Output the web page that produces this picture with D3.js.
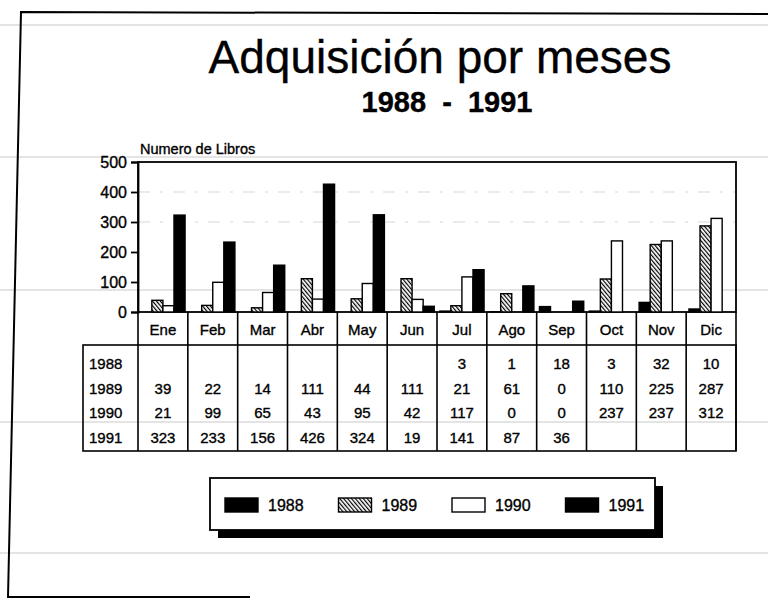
<!DOCTYPE html>
<html>
<head>
<meta charset="utf-8">
<script src="https://cdn.jsdelivr.net/npm/d3@7"></script>
<style>
  body { margin: 0; background: #fff; }
  svg { display: block; font-family: "Liberation Sans", Arial, sans-serif; }
  svg text { stroke: #000; stroke-width: 0.35px; }
</style>
</head>
<body>
<svg id="chart" width="768" height="599"></svg>
<script>
// data
var months = ['Ene', 'Feb', 'Mar', 'Abr', 'May', 'Jun', 'Jul', 'Ago', 'Sep', 'Oct', 'Nov', 'Dic'];
var years = ['1988', '1989', '1990', '1991'];
var v1988 = [null, null, null, null, null, null, 3, 1, 18, 3, 32, 10];
var v1989 = [39, 22, 14, 111, 44, 111, 21, 61, 0, 110, 225, 287];
var v1990 = [21, 99, 65, 43, 95, 42, 117, 0, 0, 237, 237, 312];
var v1991 = [323, 233, 156, 426, 324, 19, 141, 87, 36, null, null, null];
var yTicks = [0, 100, 200, 300, 400, 500];

var seriesValues = { '1988': v1988, '1989': v1989, '1990': v1990, '1991': v1991 };
var fills = { '1988': '#000', '1989': 'url(#hatch)', '1990': '#fff', '1991': '#000' };

var svg = d3.select('#chart');

// hatch pattern for 1989 (dense backslash lines)
var defs = svg.append('defs');
defs.append('pattern')
  .attr('id', 'hatch')
  .attr('patternUnits', 'userSpaceOnUse')
  .attr('width', 3)
  .attr('height', 3)
  .attr('patternTransform', 'rotate(-40)')
  .call(function (p) {
    p.append('rect').attr('width', 3).attr('height', 3).attr('fill', '#fff');
    p.append('line').attr('x1', 0).attr('y1', 0).attr('x2', 0).attr('y2', 3)
      .attr('stroke', '#000').attr('stroke-width', 2.4);
  });

// faint ruled lines of the scanned page
svg.append('g').selectAll('line').data([25, 157, 290, 422, 553]).enter()
  .append('line')
  .attr('x1', 0).attr('x2', 768)
  .attr('y1', function (d) { return d; }).attr('y2', function (d) { return d; })
  .attr('stroke', '#c9c9c9').attr('stroke-width', 1);

// page frame
svg.append('path')
  .attr('d', 'M768,14 L21,12 L8,597 L250,597')
  .attr('fill', 'none').attr('stroke', '#000').attr('stroke-width', 2);

// titles
svg.append('text')
  .attr('x', 440).attr('y', 73)
  .attr('text-anchor', 'middle')
  .attr('font-size', 46)
  .text('Adquisición por meses');
svg.append('text')
  .attr('x', 447).attr('y', 112)
  .attr('text-anchor', 'middle')
  .attr('font-size', 29)
  .attr('font-weight', 'bold')
  .style('white-space', 'pre')
  .text('1988  -  1991');

// scales
var plotLeft = 138, plotRight = 736, plotTop = 162, plotBase = 312;
var x = d3.scaleBand().domain(months).range([plotLeft, plotRight]);
var x1 = d3.scaleBand().domain(years).range([0, x.bandwidth()]).paddingOuter(0.25);
var y = d3.scaleLinear().domain([0, 500]).range([plotBase, plotTop]);

// faint dash-dot grid
svg.append('g').selectAll('line').data([300, 400]).enter()
  .append('line')
  .attr('x1', plotLeft).attr('x2', plotRight)
  .attr('y1', function (d) { return y(d); }).attr('y2', function (d) { return y(d); })
  .attr('stroke', '#777').attr('stroke-opacity', 0.3)
  .attr('stroke-dasharray', '12,10,3,10');

// plot frame
svg.append('rect')
  .attr('x', plotLeft).attr('y', plotTop)
  .attr('width', plotRight - plotLeft).attr('height', plotBase - plotTop)
  .attr('fill', 'none').attr('stroke', '#000').attr('stroke-width', 1.8);

// y axis
var yAxis = svg.append('g')
  .attr('transform', 'translate(' + plotLeft + ',0)')
  .call(d3.axisLeft(y).tickValues(yTicks).tickSize(7).tickPadding(4));
yAxis.select('.domain').attr('stroke-width', 1.8);
yAxis.selectAll('.tick line').attr('stroke-width', 1.8);
yAxis.selectAll('text')
  .attr('font-family', '"Liberation Sans", Arial, sans-serif')
  .attr('font-size', 16)
  .attr('fill', '#000');

svg.append('text')
  .attr('x', plotLeft + 2).attr('y', 154)
  .attr('font-size', 14.5)
  .text('Numero de Libros');

// bars
var groups = svg.append('g').selectAll('g').data(months).enter()
  .append('g')
  .attr('transform', function (d) { return 'translate(' + x(d) + ',0)'; });

groups.selectAll('rect')
  .data(function (m, i) {
    return years.map(function (yr) { return { year: yr, value: seriesValues[yr][i] }; })
      .filter(function (d) { return d.value !== null && d.value > 0; });
  })
  .enter()
  .append('rect')
  .attr('x', function (d) { return x1(d.year); })
  .attr('width', x1.bandwidth())
  .attr('y', function (d) { return y(d.value); })
  .attr('height', function (d) { return plotBase - y(d.value); })
  .attr('fill', function (d) { return fills[d.year]; })
  .attr('stroke', '#000')
  .attr('stroke-width', 1.4);

// data table
var tableLeft = 83, headBottom = 345, tableBottom = 451;
var rowY = d3.scalePoint().domain(years).range([363, 437]);

var table = svg.append('g').attr('stroke', '#000').attr('stroke-width', 1.6).attr('fill', 'none');
table.append('rect')
  .attr('x', tableLeft).attr('y', headBottom)
  .attr('width', plotRight - tableLeft).attr('height', tableBottom - headBottom);
table.selectAll('line.sep').data(months.concat(['end'])).enter()
  .append('line')
  .attr('class', 'sep')
  .attr('x1', function (d) { return d === 'end' ? plotRight : x(d); })
  .attr('x2', function (d) { return d === 'end' ? plotRight : x(d); })
  .attr('y1', plotBase).attr('y2', tableBottom);

svg.append('g').selectAll('text').data(months).enter()
  .append('text')
  .attr('x', function (d) { return x(d) + x.bandwidth() / 2; })
  .attr('y', 335)
  .attr('text-anchor', 'middle')
  .attr('font-size', 15)
  .text(function (d) { return d; });

svg.append('g').selectAll('text').data(years).enter()
  .append('text')
  .attr('x', 89)
  .attr('y', function (d) { return rowY(d) + 6; })
  .attr('font-size', 15)
  .text(function (d) { return d; });

years.forEach(function (yr) {
  svg.append('g').selectAll('text')
    .data(seriesValues[yr].map(function (v, i) { return { m: months[i], v: v }; })
      .filter(function (d) { return d.v !== null; }))
    .enter()
    .append('text')
    .attr('x', function (d) { return x(d.m) + x.bandwidth() / 2; })
    .attr('y', rowY(yr) + 6)
    .attr('text-anchor', 'middle')
    .attr('font-size', 15)
    .text(function (d) { return d.v; });
});

// legend with drop shadow
var lg = { x: 210, y: 478, w: 445, h: 52 };
svg.append('rect')
  .attr('x', lg.x + 8).attr('y', lg.y + 8).attr('width', lg.w).attr('height', lg.h)
  .attr('fill', '#000');
svg.append('rect')
  .attr('x', lg.x).attr('y', lg.y).attr('width', lg.w).attr('height', lg.h)
  .attr('fill', '#fff').attr('stroke', '#000').attr('stroke-width', 1.8);

var lx = d3.scaleBand().domain(years).range([225, 679]);
var items = svg.append('g').selectAll('g').data(years).enter()
  .append('g')
  .attr('transform', function (d) { return 'translate(' + lx(d) + ',498)'; });
items.append('rect')
  .attr('width', 33).attr('height', 14)
  .attr('fill', function (d) { return fills[d]; })
  .attr('stroke', '#000').attr('stroke-width', 1.4);
items.append('text')
  .attr('x', 43).attr('y', 13)
  .attr('font-size', 16)
  .text(function (d) { return d; });
</script>
</body>
</html>
